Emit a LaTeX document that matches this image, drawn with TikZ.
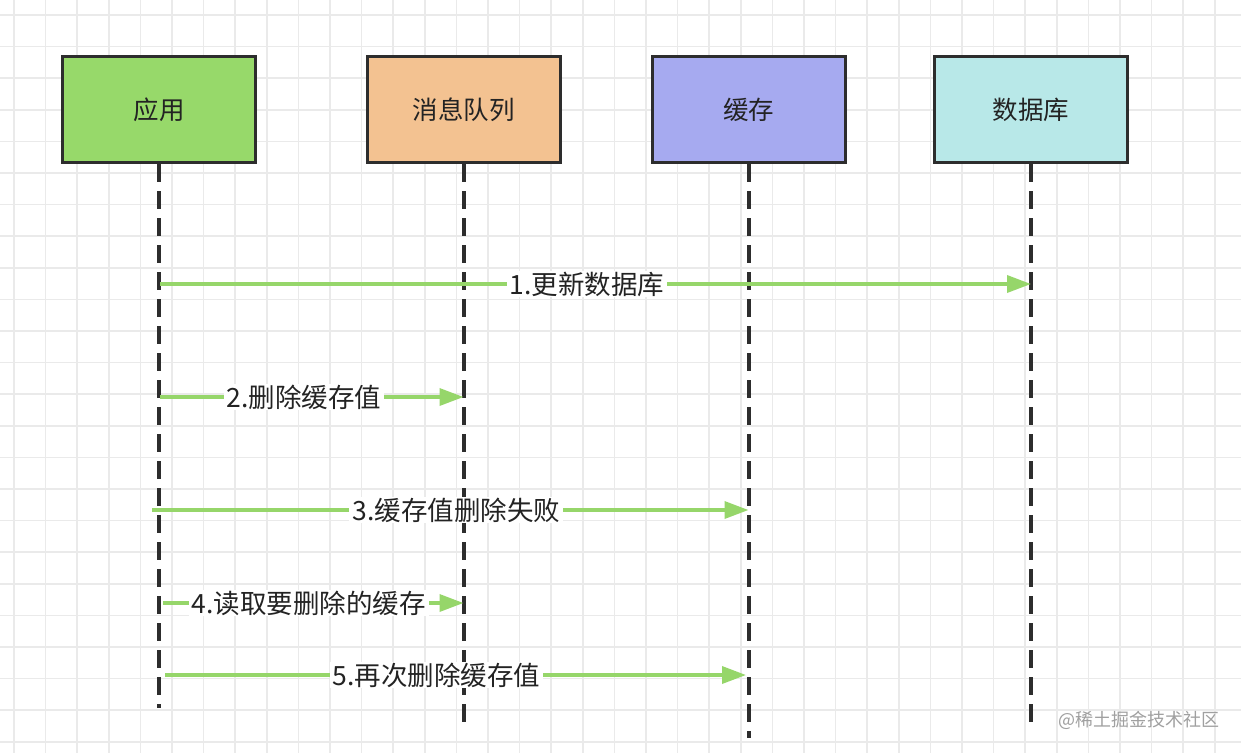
\documentclass[tikz,border=0pt]{standalone}
\usepackage{fontspec}
\setmainfont{Noto Sans CJK SC}
\usetikzlibrary{arrows.meta}
\definecolor{gridc}{RGB}{234,234,234}
\definecolor{boxline}{RGB}{45,45,45}
\definecolor{cgreen}{RGB}{151,217,106}
\definecolor{corange}{RGB}{243,194,145}
\definecolor{cpurple}{RGB}{166,170,240}
\definecolor{ccyan}{RGB}{184,232,232}
\definecolor{arrowc}{RGB}{150,214,106}
\definecolor{txt}{RGB}{35,35,35}
\definecolor{wmc}{RGB}{160,160,160}
\tikzset{
  actor/.style={draw=boxline, line width=3pt, minimum width=193pt, minimum height=106pt,
    inner sep=0pt, text=txt, font=\fontsize{25.5}{30}\selectfont},
  lifeline/.style={draw=boxline, line width=4pt, dash pattern=on 18pt off 9pt},
  msg/.style={draw=arrowc, line width=3.5pt, -{Triangle[length=24pt,width=17pt]}},
  msglabel/.style={fill=white, inner xsep=3pt, inner ysep=1pt, text=txt,
    font=\fontsize{26.5}{30}\selectfont},
}
\begin{document}
\begin{tikzpicture}[x=1pt,y=-1pt]
\fill[white] (0,0) rectangle (1241,753);
\useasboundingbox (0,0) rectangle (1241,753);
% grid
\begin{scope}
\clip (0,0) rectangle (1241,753);
\foreach \i in {0,...,39} {\draw[gridc, line width=1.6pt] ({14+31.6*\i},0) -- ({14+31.6*\i},753);}
\foreach \j in {0,...,23} {\draw[gridc, line width=1.6pt] (0,{15+31.6*\j}) -- (1241,{15+31.6*\j});}
\end{scope}
% actors
\node[actor, fill=cgreen] (app) at (159,109.5) {应用};
\node[actor, fill=corange] (mq) at (463.5,109.5) {消息队列};
\node[actor, fill=cpurple] (cache) at (748.5,109.5) {缓存};
\node[actor, fill=ccyan] (db) at (1031,109.5) {数据库};
% lifeline ends
\coordinate (appE) at (159,708);
\coordinate (mqE) at (463.5,727);
\coordinate (cacheE) at (748.5,738);
\coordinate (dbE) at (1031,727);
\draw[lifeline] (app.south) -- (appE);
\draw[lifeline] (mq.south) -- (mqE);
\draw[lifeline] (cache.south) -- (cacheE);
\draw[lifeline] (db.south) -- (dbE);
% message end points
\coordinate (m1s) at (160,284);   \coordinate (m1e) at (1031,284);
\coordinate (m2s) at (160,397);   \coordinate (m2e) at (463.5,397);
\coordinate (m3s) at (152,510);   \coordinate (m3e) at (748.5,510);
\coordinate (m4s) at (163,603);   \coordinate (m4e) at (463.5,603);
\coordinate (m5s) at (165,675);   \coordinate (m5e) at (746,675);
\draw[msg] (m1s) -- node[msglabel, pos=0.49] (l1) {1.更新数据库} (m1e);
\draw[msg] (m2s) -- node[msglabel, pos=0.475] (l2) {2.删除缓存值} (m2e);
\draw[msg] (m3s) -- node[msglabel, pos=0.51] (l3) {3.缓存值删除失败} (m3e);
\draw[msg] (m4s) -- node[msglabel, pos=0.485] (l4) {4.读取要删除的缓存} (m4e);
\draw[msg] (m5s) -- node[msglabel, pos=0.467] (l5) {5.再次删除缓存值} (m5e);
% watermark
\node[anchor=west, text=wmc, inner sep=0pt, font=\fontsize{18}{20}\selectfont] (wm) at (1058,720) {@稀土掘金技术社区};
\end{tikzpicture}
\end{document}
